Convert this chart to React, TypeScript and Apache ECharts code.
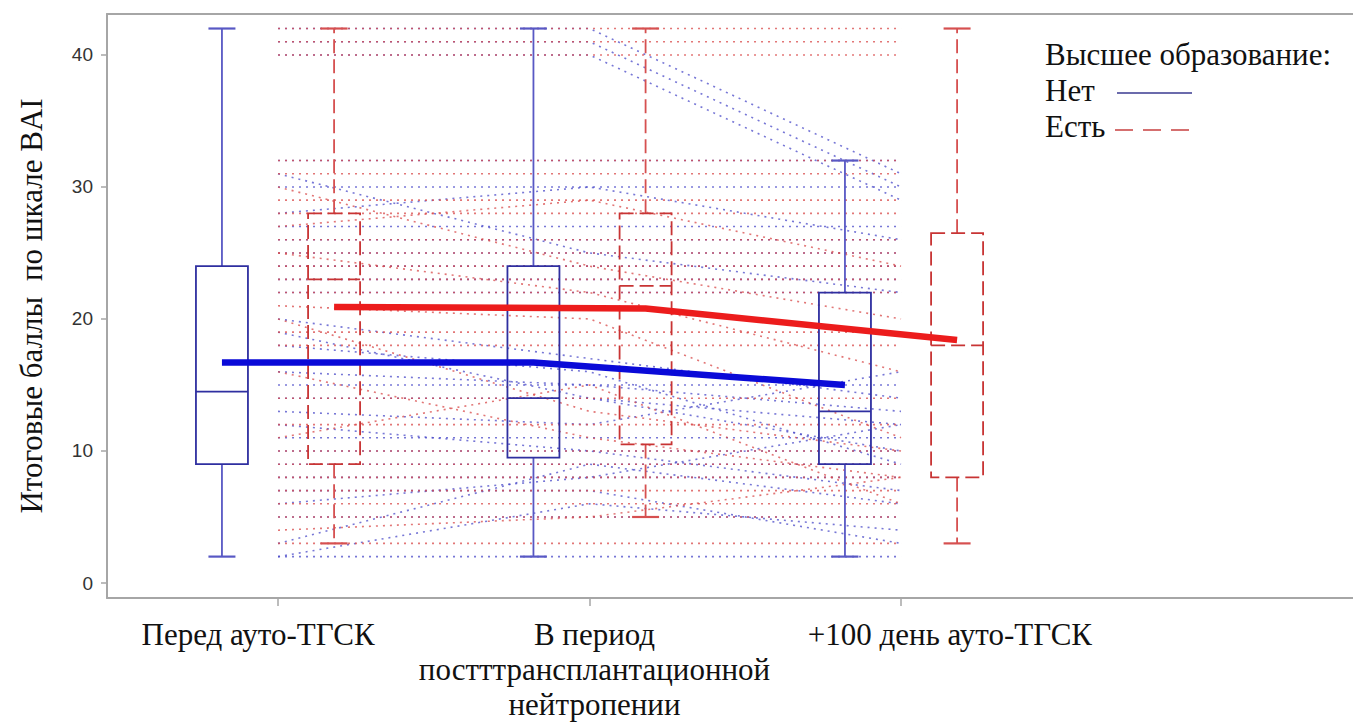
import React, { useEffect, useRef } from "react";
import * as echarts from "echarts";

// ---- Data ----
const timeLabels = ["Перед ауто-ТГСК", "В период\nпостттрансплантационной\nнейтропении", "+100 день ауто-ТГСК"];
const timePoints = [1, 2, 3];
const labelPositions = [0.936, 2.016, 3.157];
const yTicks = [0, 10, 20, 30, 40];

// box stats: [time, min, q1, median, q3, max]
const boxNo = [
  [1, 2, 9, 14.5, 24, 42],
  [2, 2, 9.5, 14, 24, 42],
  [3, 2, 9, 13, 22, 32],
];
const boxYes = [
  [1, 3, 9, 23, 28, 42],
  [2, 5, 10.5, 22.5, 28, 42],
  [3, 3, 8, 18, 26.5, 42],
];
const meanNo = [16.7, 16.7, 15.0];
const meanYes = [20.9, 20.8, 18.4];

// individual patients' scores at the three time points
const patientsNo = [
  [42, 42, 31], [41, 41, 30], [2, 2, 2], [5, 5, 5], [8, 8, 8], [9, 9, 9],
  [10, 10, 10], [11, 11, 11], [15, 15, 15], [22, 22, 22], [24, 24, 24],
  [25, 25, 25], [26, 26, 26], [27, 27, 27], [30, 30, 30], [32, 32, 32],
  [23, 23, 23], [14, 14, 12], [16, 15, 13], [31, 25, 22], [28, 30, 26],
  [3, 9, 6], [2, 6, 4], [12, 10, 7], [19, 14, 10], [18, 16, 9], [6, 8, 12],
  [13, 12, 16], [20, 17, 14], [7, 7, 3], [40, 40, 29],
];
const patientsYes = [
  [42, 42, 42], [40, 40, 40], [41, 41, 41], [3, 3, 3], [5, 5, 5], [7, 7, 7],
  [8, 8, 8], [9, 9, 9], [10, 10, 10], [14, 14, 14], [22, 22, 22], [23, 23, 23],
  [24, 24, 24], [26, 26, 26], [28, 28, 28], [29, 29, 29], [31, 31, 31],
  [18, 18, 18], [19, 19, 19], [12, 12, 12], [6, 6, 6], [30, 24, 20],
  [27, 29, 24], [25, 22, 16], [21, 20, 11], [16, 11, 8], [20, 13, 10],
  [4, 5, 8], [11, 15, 6], [32, 32, 32], [25, 25, 25],
];

const legendTitle = "Высшее образование:";
const legendNames = ["Нет", "Есть"];
const yTitle = "Итоговые баллы  по шкале BAI";

// ---- Styles ----
const OFFSET = 0.18;
const BLUE_BOX = "#2f2fa0";
const BLUE_WHISK = "#5858c4";
const RED_BOX = "#c83434";
const RED_WHISK = "#d65050";
const BLUE_MEAN = "#0a0ad8";
const RED_MEAN = "#ec1c1c";
const SERIF = "'Liberation Serif', 'DejaVu Serif', serif";
const FRAME = "#a6a6a6";

function makeBoxSeries(data: number[][], offset: number, boxColor: string, whiskColor: string, dashed: boolean) {
  return {
    type: "custom",
    silent: true,
    z: 5,
    clip: false,
    data,
    encode: { x: 0, y: [1, 2, 3, 4, 5] },
    renderItem: (params: any, api: any) => {
      const x = api.value(0) + offset;
      const pMin = api.coord([x, api.value(1)]);
      const pQ1 = api.coord([x, api.value(2)]);
      const pMed = api.coord([x, api.value(3)]);
      const pQ3 = api.coord([x, api.value(4)]);
      const pMax = api.coord([x, api.value(5)]);
      const hw = 26;
      const cw = 13.5;
      const cx = pMed[0];
      const dash = dashed ? [14, 6] : null;
      const boxStyle = { stroke: boxColor, lineWidth: 1.8, fill: "none", lineDash: dash };
      const whStyle = { stroke: whiskColor, lineWidth: 1.8, lineDash: dash };
      const capStyle = { stroke: whiskColor, lineWidth: 2.2 };
      return {
        type: "group",
        children: [
          { type: "line", shape: { x1: cx, y1: pQ3[1], x2: cx, y2: pMax[1] }, style: whStyle },
          { type: "line", shape: { x1: cx, y1: pQ1[1], x2: cx, y2: pMin[1] }, style: whStyle },
          { type: "line", shape: { x1: cx - cw, y1: pMax[1], x2: cx + cw, y2: pMax[1] }, style: capStyle },
          { type: "line", shape: { x1: cx - cw, y1: pMin[1], x2: cx + cw, y2: pMin[1] }, style: capStyle },
          { type: "rect", shape: { x: cx - hw, y: pQ3[1], width: 2 * hw, height: pQ1[1] - pQ3[1] }, style: boxStyle },
          { type: "line", shape: { x1: cx - hw, y1: pMed[1], x2: cx + hw, y2: pMed[1] }, style: { stroke: boxColor, lineWidth: 1.8, lineDash: dash } },
        ],
      };
    },
  };
}

function makePatientSeries(list: number[][], color: string) {
  return list.map((vals) => ({
    type: "line",
    silent: true,
    clip: false,
    z: 1,
    showSymbol: false,
    symbol: "none",
    data: vals.map((v, i) => [timePoints[i], v]),
    lineStyle: { color, width: 1.6, type: [2, 5], opacity: 0.75 },
  }));
}

export default function App() {
  const ref = useRef<HTMLDivElement>(null);
  useEffect(() => {
    if (!ref.current) return;
    const chart = echarts.init(ref.current, null, { renderer: "svg" });
    const option: any = {
      animation: false,
      backgroundColor: "#ffffff",
      grid: {
        left: 107,
        top: 14,
        width: 1249,
        height: 584,
        show: false,
        containLabel: false,
        outerBoundsMode: "none",
      },
      xAxis: [
        {
          type: "value",
          min: 0.451,
          max: 4.4606,
          splitLine: { show: false },
          axisLine: { show: true, onZero: false, lineStyle: { color: FRAME, width: 2 } },
          axisTick: { show: true, customValues: timePoints, length: 8, lineStyle: { color: FRAME, width: 1.5 } },
          axisLabel: {
            customValues: labelPositions,
            margin: 19,
            fontFamily: SERIF,
            fontSize: 31,
            lineHeight: 35,
            color: "#111",
            align: "center",
            formatter: (v: number) => {
              const idx = labelPositions.findIndex((p) => Math.abs(p - v) < 1e-6);
              return idx >= 0 ? timeLabels[idx] : "";
            },
          },
        },
        {
          type: "value",
          position: "top",
          min: 0.451,
          max: 4.4606,
          splitLine: { show: false },
          axisLine: { show: true, onZero: false, lineStyle: { color: FRAME, width: 2 } },
          axisTick: { show: false },
          axisLabel: { show: false },
        },
      ],
      yAxis: {
        type: "value",
        min: -1.136,
        max: 43.1,
        splitLine: { show: false },
        axisLine: { show: true, onZero: false, lineStyle: { color: FRAME, width: 2 } },
        axisTick: { show: true, customValues: yTicks, length: 6, lineStyle: { color: FRAME, width: 1.5 } },
        axisLabel: {
          customValues: yTicks,
          margin: 14,
          fontFamily: "'Liberation Sans', Arial, sans-serif",
          fontSize: 19,
          color: "#333",
        },
        name: yTitle,
        nameLocation: "middle",
        nameRotate: 90,
        nameGap: 60,
        nameTextStyle: { fontFamily: SERIF, fontSize: 31, color: "#111" },
      },
      series: [
        ...makePatientSeries(patientsNo, "#4a4ac8"),
        ...makePatientSeries(patientsYes, "#d84848"),
        makeBoxSeries(boxNo, -OFFSET, BLUE_BOX, BLUE_WHISK, false),
        makeBoxSeries(boxYes, OFFSET, RED_BOX, RED_WHISK, true),
        {
          type: "line",
          silent: true,
          z: 10,
          symbol: "none",
          data: meanNo.map((v, i) => [timePoints[i] - OFFSET, v]),
          lineStyle: { color: BLUE_MEAN, width: 6.5 },
        },
        {
          type: "line",
          silent: true,
          z: 10,
          symbol: "none",
          data: meanYes.map((v, i) => [timePoints[i] + OFFSET, v]),
          lineStyle: { color: RED_MEAN, width: 6.5 },
        },
      ],
      graphic: [
        {
          type: "text",
          left: 1045,
          top: 39,
          style: { text: legendTitle, font: `31px ${SERIF}`, fill: "#111" },
        },
        {
          type: "text",
          left: 1045,
          top: 75,
          style: { text: legendNames[0], font: `31px ${SERIF}`, fill: "#111" },
        },
        {
          type: "line",
          shape: { x1: 1117, y1: 93, x2: 1192, y2: 93 },
          style: { stroke: "#3a3a90", lineWidth: 1.5 },
        },
        {
          type: "text",
          left: 1045,
          top: 111,
          style: { text: legendNames[1], font: `31px ${SERIF}`, fill: "#111" },
        },
        {
          type: "line",
          shape: { x1: 1115, y1: 130, x2: 1192, y2: 130 },
          style: { stroke: "#c84040", lineWidth: 1.5, lineDash: [18, 10] },
        },
      ],
    };
    chart.setOption(option);
    return () => chart.dispose();
  }, []);
  return <div ref={ref} style={{ position: "absolute", left: 0, top: 0, width: 1353, height: 722 }} />;
}
